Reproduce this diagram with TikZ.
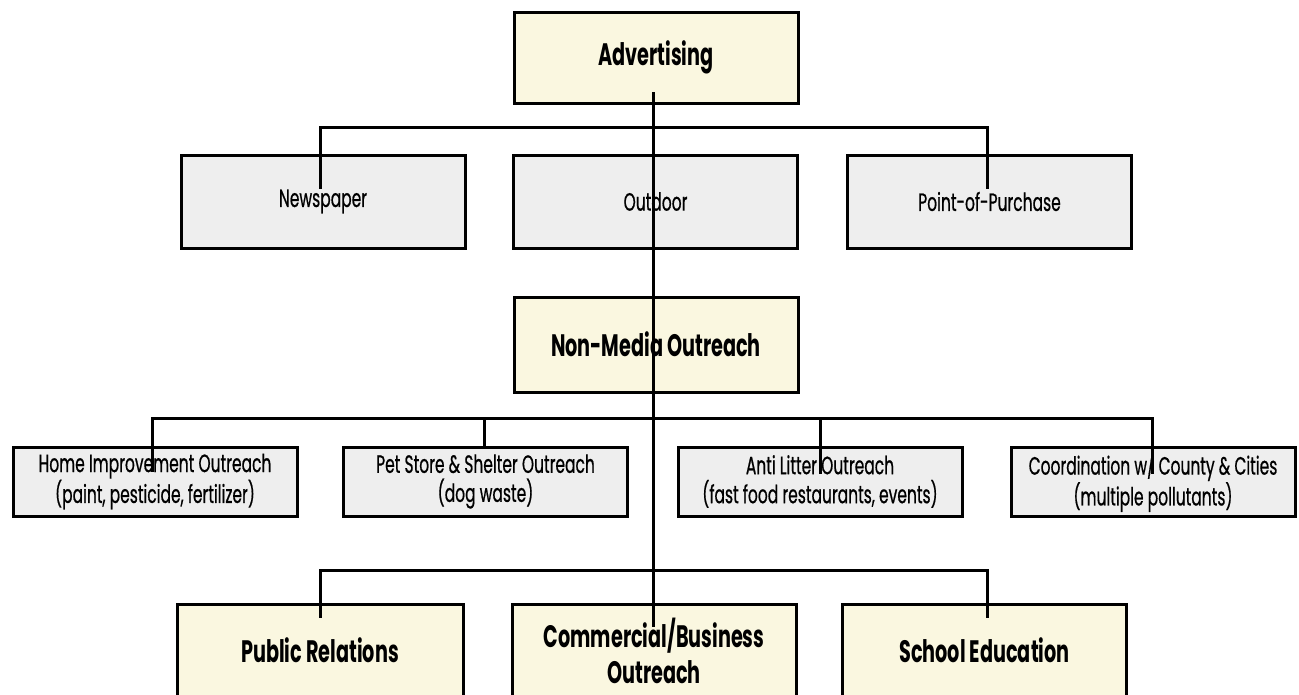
\documentclass[tikz,border=0pt]{standalone}
\usepackage{fontspec}
\setmainfont{Poppins}[FakeStretch=0.62, UprightFeatures={FakeBold=0.6}]
\usetikzlibrary{calc}
\definecolor{cream}{RGB}{250,247,224}
\definecolor{lgray}{RGB}{238,238,238}
\begin{document}
\begin{tikzpicture}[x=1pt,y=-1pt,
  box/.style={draw=black, line width=3pt, minimum width=284pt, inner sep=0pt, align=center, text=black},
  ybox/.style={box, fill=cream, font=\fontsize{31}{36}\selectfont\bfseries},
  gbox/.style={box, fill=lgray, font=\fontsize{25}{29}\selectfont},
  conn/.style={draw=black, line width=3pt}]
\useasboundingbox (0,0) rectangle (1299,694);
\clip (0,0) rectangle (1299,694);
% top
\node[ybox, minimum height=91pt] (adv) at (656,57.5) {Advertising};
% row 1
\node[gbox, minimum height=93pt] (news) at (323,201.5) {Newspaper};
\node[gbox, minimum height=93pt] (outd) at (655.5,201.5) {Outdoor};
\node[gbox, minimum height=93pt] (pop) at (989.5,201.5) {Point-of-Purchase};
% middle
\node[ybox, minimum height=95pt] (nmo) at (656,344.5) {Non-Media Outreach};
% row 2
\node[gbox, minimum height=69pt] (home) at (155,481.5) {Home Improvement Outreach\\(paint, pesticide, fertilizer)};
\node[gbox, minimum height=69pt] (pet) at (485.5,481.5) {Pet Store \& Shelter Outreach\\(dog waste)};
\node[gbox, minimum height=69pt] (anti) at (820,481.5) {Anti Litter Outreach\\(fast food restaurants, events)};
\node[gbox, minimum height=69pt] (coord) at (1153,481.5) {Coordination w/ County \& Cities\\(multiple pollutants)};
% row 3
\node[ybox, minimum height=93pt, minimum width=286pt] (pr) at (320,650.5) {Public Relations};
\node[ybox, minimum height=93pt] (comm) at (654,650.5) {Commercial/Business\\Outreach};
\node[ybox, minimum height=93pt] (school) at (984.5,650.5) {School Education};
% buses
\coordinate (bus1) at (653,127);
\coordinate (bus2) at (653,418);
\coordinate (bus3) at (653,570);
\coordinate (vtop) at (653,92);
\coordinate (vbot) at (653,627);
\draw[conn] ([xshift=-3pt,yshift=-35pt]news.north) |- (bus1) -| ([xshift=-2.5pt,yshift=-35pt]pop.north);
\draw[conn] ([xshift=-3pt,yshift=-26pt]home.north) |- (bus2) -| ([xshift=-1pt,yshift=-28pt]coord.north);
\draw[conn] ([xshift=-1.5pt]pet.north) -- ([xshift=-1.5pt]pet.north |- bus2);
\draw[conn] ([yshift=-28pt]anti.north) -- (anti.north |- bus2);
\draw[conn] ([yshift=-15pt]pr.north) |- (bus3) -| ([xshift=2.5pt,yshift=-15pt]school.north);
\draw[conn] (vtop) -- (vbot);
\end{tikzpicture}
\end{document}
